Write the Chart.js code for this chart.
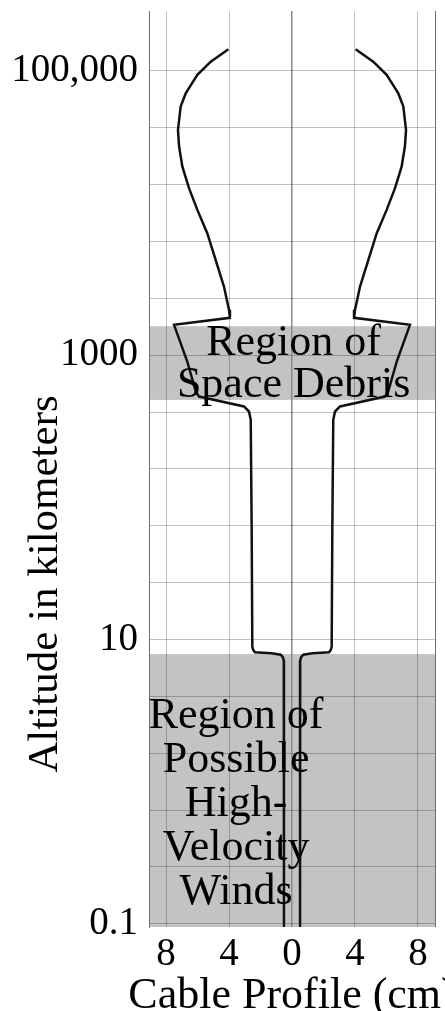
<!DOCTYPE html>
<html>
<head>
<meta charset="utf-8">
<script src="https://cdn.jsdelivr.net/npm/chart.js@4/dist/chart.umd.min.js"></script>
<style>
  html, body { margin: 0; padding: 0; background: #fff; }
  #wrap { width: 445px; height: 1011px; position: relative; }
</style>
</head>
<body>
<div id="wrap"><canvas id="profile"></canvas></div>
<script>
// cable radius (cm) against altitude (km), top to bottom
const altitudeKm = [142200, 116200, 93760, 69700, 56100, 38460, 29370, 21230, 14960, 10530,
  7220, 4690, 3040, 2085, 1832, 1636, 903, 556, 512, 436, 402, 351, 59,
  8.94, 8.47, 8.15, 8.02, 7.82, 7.51, 7.10, 6.14, 0.095];
const radiusCm = [4.04, 5.16, 6.01, 6.75, 7.07, 7.24, 7.17, 6.96, 6.54, 6.01,
  5.38, 4.85, 4.32, 4.0, 3.94, 7.49, 6.65, 6.11, 5.9, 3.05, 2.73, 2.62, 2.56,
  2.52, 2.47, 2.35, 1.3, 0.72, 0.58, 0.52, 0.51, 0.51];

// shaded altitude bands (km)
const debrisBand = [485, 1600];
const windBand = [0.095, 7.9];

// axes
const yTickValues = [0.1, 10, 1000, 100000];
const yTickLabels = ['0.1', '10', '1000', '100,000'];
const yGridValues = [0.1, 0.2512, 0.631, 1.585, 3.981, 10, 25.12, 63.1, 158.5, 398.1,
  1000, 2512, 6310, 15849, 39811, 100000];
const xTickValues = [-8, -4, 0, 4, 8];
const xTickLabels = ['8', '4', '0', '4', '8'];
const xRange = [-9.08, 9.08];
const yRange = [0.095, 264000];

const SERIF = '"Liberation Serif", "DejaVu Serif", serif';

const labelBlocks = [
  { lines: ['Region of', 'Space Debris'], x: 0.1, alt: 1000, gap: 42 },
  { lines: ['Region of', 'Possible', 'High-', 'Velocity', 'Winds'], x: -3.55, alt: 2.4, gap: 44 }
];

const bandsAndText = {
  id: 'bandsAndText',
  beforeDraw(chart) {
    const { ctx, chartArea: a, scales: { y } } = chart;
    ctx.save();
    ctx.fillStyle = '#c3c3c3';
    [debrisBand, windBand].forEach(b => {
      const top = Math.max(a.top, y.getPixelForValue(b[1]));
      const bot = Math.min(a.bottom, y.getPixelForValue(b[0]));
      ctx.fillRect(a.left, top, a.right - a.left, bot - top);
    });
    ctx.restore();
  },
  afterDraw(chart) {
    const { ctx, scales: { x, y } } = chart;
    ctx.save();
    ctx.fillStyle = '#000';
    ctx.font = '44px ' + SERIF;
    ctx.textAlign = 'center';
    ctx.textBaseline = 'alphabetic';
    labelBlocks.forEach(blk => {
      const px = x.getPixelForValue(blk.x);
      const py = y.getPixelForValue(blk.alt);
      blk.lines.forEach((t, i) => ctx.fillText(t, px, py + i * blk.gap));
    });
    // x axis title, allowed to run past the right edge like the original
    ctx.font = '44px ' + SERIF;
    ctx.fillText('Cable Profile (cm)', x.getPixelForValue(0), 1008);
    // y axis title
    ctx.font = '43px ' + SERIF;
    ctx.translate(46, 584);
    ctx.rotate(-Math.PI / 2);
    ctx.textBaseline = 'middle';
    ctx.fillText('Altitude in kilometers', 0, 0);
    ctx.restore();
  }
};

const lineStyle = { showLine: true, borderColor: '#111', borderWidth: 2.5, pointRadius: 0, tension: 0, fill: false };

new Chart(document.getElementById('profile'), {
  type: 'scatter',
  data: {
    datasets: [
      Object.assign({ label: 'right', data: radiusCm.map((r, i) => ({ x: r, y: altitudeKm[i] })) }, lineStyle),
      Object.assign({ label: 'left', data: radiusCm.map((r, i) => ({ x: -r, y: altitudeKm[i] })) }, lineStyle)
    ]
  },
  options: {
    responsive: true,
    maintainAspectRatio: false,
    animation: false,
    layout: { padding: { top: 11, right: 10, left: 0, bottom: 0 } },
    plugins: { legend: { display: false }, tooltip: { enabled: false } },
    scales: {
      x: {
        type: 'linear',
        min: xRange[0],
        max: xRange[1],
        afterBuildTicks(s) { s.ticks = [xRange[0], ...xTickValues, xRange[1]].map(v => ({ value: v })); },
        afterFit(s) { s.height = 84; s.paddingLeft = 0; s.paddingRight = 0; },
        border: { display: false },
        grid: {
          drawTicks: false,
          color: c => {
            const v = c.tick.value;
            if (v === 0) return '#8a8a8a';
            if (v === xRange[0] || v === xRange[1]) return '#6e6e6e';
            return 'rgba(0,0,0,0.24)';
          },
          lineWidth: c => (c.tick.value === 0 ? 1.5 : 1)
        },
        ticks: {
          autoSkip: false,
          maxRotation: 0,
          padding: 4,
          color: '#000',
          font: { family: SERIF, size: 39 },
          callback: v => {
            const i = xTickValues.indexOf(v);
            return i >= 0 ? xTickLabels[i] : '';
          }
        }
      },
      y: {
        type: 'logarithmic',
        min: yRange[0],
        max: yRange[1],
        afterBuildTicks(s) { s.ticks = yGridValues.map(v => ({ value: v })); },
        afterFit(s) { s.width = 149; s.paddingTop = 0; s.paddingBottom = 0; },
        border: { display: true, color: '#6e6e6e', width: 1 },
        grid: { drawTicks: false, color: 'rgba(0,0,0,0.24)' },
        ticks: {
          autoSkip: false,
          padding: 11,
          color: '#000',
          font: { family: SERIF, size: 39 },
          callback: v => {
            const i = yTickValues.findIndex(t => Math.abs(Math.log10(t) - Math.log10(v)) < 0.01);
            return i >= 0 ? yTickLabels[i] : '';
          }
        }
      }
    }
  },
  plugins: [bandsAndText]
});
</script>
</body>
</html>
